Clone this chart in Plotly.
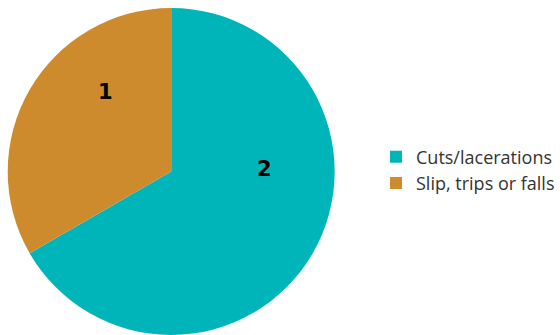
import plotly.graph_objects as go

labels = ["Cuts/lacerations", "Slip, trips or falls"]
values = [2, 1]
colors = ["#00B5BA", "#CD8B2E"]

# Data-label placement (paper coordinates), as in the reference layout
label_pos = [(0.473, 0.495), (0.188, 0.725)]

fig = go.Figure(go.Pie(
    labels=labels,
    values=values,
    sort=False,
    direction="clockwise",
    rotation=0,
    marker=dict(colors=colors, line=dict(width=0)),
    textinfo="none",
    domain=dict(x=[0.0125, 0.6], y=[0.0, 0.976]),
    hoverinfo="label+value",
))

for v, (px, py) in zip(values, label_pos):
    fig.add_annotation(
        x=px, y=py, xref="paper", yref="paper",
        text=f"<b>{v}</b>", showarrow=False,
        font=dict(family="DejaVu Sans", size=21, color="black"),
        xanchor="center", yanchor="middle",
    )

fig.update_layout(
    width=560, height=335,
    margin=dict(l=0, r=0, t=0, b=0),
    paper_bgcolor="white",
    plot_bgcolor="white",
    showlegend=True,
    legend=dict(
        x=0.673, y=0.4925, xanchor="left", yanchor="middle",
        font=dict(family="Open Sans", size=18, color="#333333"),
        itemsizing="constant",
        tracegroupgap=0,
    ),
)

fig.write_html("out.html")
